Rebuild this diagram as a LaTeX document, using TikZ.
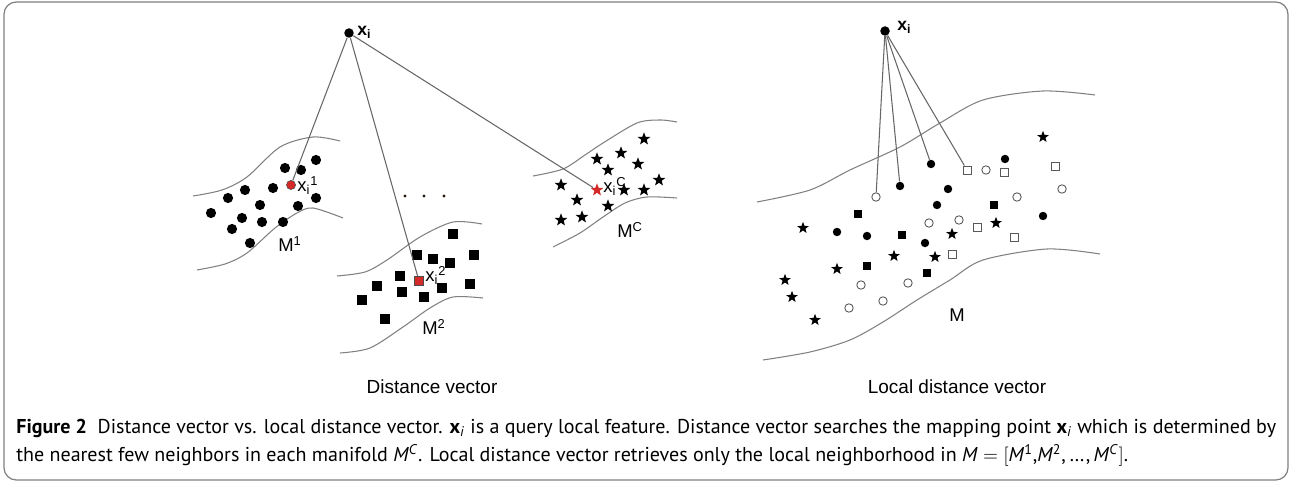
\documentclass[tikz,border=0pt]{standalone}
\usepackage{fontspec}
\setmainfont{PT Sans}
\newfontfamily\arialfont{Liberation Sans}
\usetikzlibrary{shapes.geometric}

\definecolor{curvegray}{HTML}{808080}
\definecolor{markred}{HTML}{D42A2A}

\tikzset{
  manif/.style={draw=curvegray, line width=0.6pt},
  link/.style={draw=black!60, line width=0.6pt},
  dotm/.style={circle, fill=black, inner sep=0pt, minimum size=5.8pt},
  sqm/.style={rectangle, fill=black, inner sep=0pt, minimum size=5.4pt},
  starm/.style={star, star points=5, star point ratio=2.4, fill=black, inner sep=0pt, minimum size=7.6pt},
  rdot/.style={dotm, minimum size=4.8pt},
  rsq/.style={sqm, minimum size=4.7pt},
  rstar/.style={starm, minimum size=7pt},
  ocirc/.style={circle, draw=black!65, line width=0.5pt, fill=white, inner sep=0pt, minimum size=4.8pt},
  osq/.style={rectangle, draw=black!65, line width=0.5pt, fill=white, inner sep=0pt, minimum size=4.6pt},
  query/.style={circle, fill=black, inner sep=0pt, minimum size=5.4pt},
  lbl/.style={inner sep=0pt, font=\arialfont\fontsize{10.5}{12}\selectfont},
  qlbl/.style={inner sep=0pt, font=\arialfont\bfseries\fontsize{10}{12}\selectfont},
  ttl/.style={inner sep=0pt, font=\arialfont\fontsize{10.8}{13}\selectfont},
  capt/.style={inner sep=0pt, anchor=west, font=\fontsize{11.4}{13}\selectfont}
}

\begin{document}
\begin{tikzpicture}[x=0.02cm, y=-0.02cm]
\useasboundingbox (0,0) rectangle (1291,482);
\draw[curvegray, line width=0.7pt, rounded corners=7pt] (4,2) rectangle (1288,480);

% distance vector: manifolds
\draw[manif] plot[smooth] coordinates {(193,196) (222,190) (247,177) (280,147) (313,137) (340,141)};
\draw[manif] plot[smooth] coordinates {(197,270) (225,264) (247,253) (275,228) (297,213) (313,208) (343,218)};
\draw[manif] plot[smooth] coordinates {(337,276) (365,272) (387,260) (420,237) (453,222) (482,224)};
\draw[manif] plot[smooth] coordinates {(340,353) (370,348) (403,327) (430,308) (453,297) (483,298)};
\draw[manif] plot[smooth] coordinates {(533,176) (563,169) (585,155) (603,143) (637,123) (660,120) (677,122)};
\draw[manif] plot[smooth] coordinates {(553,247) (580,233) (603,217) (625,203) (647,197) (677,198)};

\foreach \x/\y [count=\k] in {316/160, 285/168, 301/170, 273/188, 245/190, 228/198, 316/198,
    260/205, 298/206, 211/213, 242/218, 262/222, 283/222, 232/229, 250/243}
  \node[dotm] (a\k) at (\x,\y) {};
\foreach \x/\y [count=\k] in {453/234, 417/255, 433/259, 450/263, 474/255, 400/276, 377/286,
    402/292, 442/288, 470/284, 362/300, 424/297, 385/319}
  \node[sqm] (b\k) at (\x,\y) {};
\foreach \x/\y [count=\k] in {644/139, 597/159, 621/153, 638/164, 608/170, 561/185, 659/180,
    624/190, 644/190, 577/200, 608/206, 561/220, 582/217}
  \node[starm] (s\k) at (\x,\y) {};
\foreach \x [count=\k] in {405, 424, 444}
  \node[circle, fill=black!80!brown, inner sep=0pt, minimum size=1.8pt] (d\k) at (\x,196) {};

\node[dotm, fill=markred, draw=black!70, line width=0.3pt, minimum size=5.2pt] (p1) at (291,185) {};
\node[sqm, fill=markred, draw=black!70, line width=0.3pt] (p2) at (419,281) {};
\node[starm, fill=markred] (pC) at (597,190) {};

\node[query] (xiL) at (349,33) {};
\node[qlbl, anchor=base west] (xiLl) at (357,36) {x\textsubscript{i}};
\draw[link] (xiL) -- (p1);
\draw[link] (xiL) -- (p2);
\draw[link] (xiL) -- (pC);

\node[lbl, anchor=base west] (l1) at (297,192) {x\textsubscript{i}\textsuperscript{1}};
\node[lbl, anchor=base west] (l2) at (425,282) {x\textsubscript{i}\textsuperscript{2}};
\node[lbl, anchor=base west] (lC) at (603,193) {x\textsubscript{i}\textsuperscript{C}};
\node[lbl, anchor=base west] (m1) at (278,252) {M\textsuperscript{1}};
\node[lbl, anchor=base west] (m2) at (422,335) {M\textsuperscript{2}};
\node[lbl, anchor=base west] (mC) at (617,238) {M\textsuperscript{C}};

% local distance vector
\draw[manif] plot[smooth] coordinates {(757,202) (810,190) (850,170) (900,147) (940,123) (983,100) (1043,91) (1095,95)};
\draw[manif] plot[smooth] coordinates {(763,360) (810,352) (850,340) (883,322) (917,300) (950,280) (983,260) (1047,249) (1100,254)};

\foreach \x/\y [count=\k] in {1005/159, 948/189, 937/205, 1043/216, 837/232, 867/236, 925/243}
  \node[rdot] (e\k) at (\x,\y) {};
\foreach \x/\y [count=\k] in {1017/197, 986/170, 929/223, 959/220, 861/285, 908/283, 849/308, 883/301, 1062/189}
  \node[ocirc] (o\k) at (\x,\y) {};
\foreach \x/\y [count=\k] in {1004/172, 977/227, 1014/237, 952/254, 1055/166}
  \node[osq] (q\k) at (\x,\y) {};
\foreach \x/\y [count=\k] in {858/214, 994/205, 902/235, 867/266, 927/273}
  \node[rsq] (f\k) at (\x,\y) {};
\foreach \x/\y [count=\k] in {1043/137, 803/228, 996/223, 952/234, 894/256, 935/257, 837/269, 785/280, 792/297, 815/320}
  \node[rstar] (t\k) at (\x,\y) {};

\node[ocirc] (c1) at (876,197) {};
\node[rdot] (c2) at (900,186) {};
\node[rdot] (c3) at (931,164) {};
\node[osq] (c4) at (967,170) {};

\node[query] (xiR) at (885,31) {};
\node[qlbl, anchor=base west] (xiRl) at (897,31) {x\textsubscript{i}};
\foreach \k in {1,...,4}
  \draw[link] (xiR) -- (c\k);

\node[lbl, anchor=base west] (mM) at (949,322) {M};

% titles
\node[ttl] (tl) at (432,387) {Distance vector};
\node[ttl] (tr) at (957,387) {Local distance vector};

% caption
\node[capt] (cap1) at (16,428) {\textbf{Figure 2}\ \ Distance vector vs. local distance vector. \textbf{x}\textsubscript{\textit{i}} is a query local feature. Distance vector searches the mapping point \textbf{x}\textsubscript{\textit{i}} which is determined by};
\node[capt] (cap2) at (16,455) {the nearest few neighbors in each manifold \textit{M}\textsuperscript{\textit{C}}. Local distance vector retrieves only the local neighborhood in \textit{M} $=$ $\bigl[$\textit{M}\textsuperscript{1},\textit{M}\textsuperscript{2},\,\dots,\,\textit{M}\textsuperscript{\textit{C}}$\bigr]$.};
\end{tikzpicture}
\end{document}
